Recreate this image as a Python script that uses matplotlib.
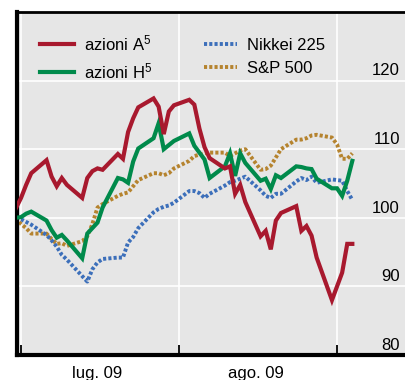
import matplotlib
matplotlib.use("Agg")
import matplotlib.pyplot as plt
import matplotlib.dates as mdates
import matplotlib.transforms as mtransforms
import pandas as pd

plt.rcParams['font.family'] = ['Liberation Sans', 'DejaVu Sans']
plt.rcParams['mathtext.fontset'] = 'custom'
plt.rcParams['mathtext.rm'] = 'Liberation Sans'
plt.rcParams['mathtext.it'] = 'Liberation Sans'

dates = pd.bdate_range("2009-06-30", "2009-09-04")

azioni_a = [101.4,
            102.9, 104.8, 106.5, 108.4, 106.0, 104.6, 105.8, 104.8, 102.9, 105.8, 106.8, 107.2,
            107.0, 109.3, 108.6, 112.5, 114.5, 116.1, 117.4, 116.2, 112.2, 115.5, 116.4,
            117.2, 116.5, 113.0, 110.3, 108.7, 107.2, 107.5, 103.5, 104.8, 102.3, 97.3, 98.1,
            95.4, 99.6, 100.7, 101.7, 98.1, 98.8, 97.4, 94.2, 88.0,
            90.0, 92.0, 96.2, 96.2]
azioni_h = [100.0,
            100.1, 100.6, 100.9, 99.6, 98.2, 97.1, 97.5, 96.7, 94.1, 97.7, 98.5, 99.3,
            101.5, 105.8, 105.6, 105.1, 108.2, 110.1, 111.6, 113.8, 110.0, 110.6, 111.2,
            112.3, 110.5, 109.5, 108.5, 105.8, 107.5, 109.4, 106.1, 109.4, 108.0, 105.4, 105.7,
            104.2, 106.2, 105.8, 107.5, 107.4, 107.2, 107.1, 105.7, 104.3,
            104.3, 103.2, 105.4, 108.3]
nikkei = [100.0,
          99.8, 99.4, 99.0, 97.5, 96.7, 95.8, 94.6, 93.9, 91.5, 90.7, 92.5, 93.5,
          94.0, 94.2, 94.2, 96.4, 97.2, 98.5, 100.8, 101.3, 101.6, 101.8, 102.2,
          103.9, 103.9, 103.6, 102.9, 103.5, 104.7, 105.2, 105.4, 105.7, 106.0, 104.0, 103.2,
          102.9, 103.5, 103.5, 105.3, 105.8, 105.5, 106.0, 105.1, 105.6,
          105.5, 105.4, 103.9, 102.6]
sp500 = [100.0,
         99.1, 98.5, 97.7, 97.7, 96.9, 96.2, 96.3, 95.9, 96.6, 97.3, 99.1, 101.5,
         102.0, 103.2, 103.5, 103.7, 104.6, 105.5, 106.5, 106.5, 106.2, 106.5, 107.2,
         108.3, 109.0, 109.2, 109.4, 109.5, 109.5, 109.0, 109.4, 109.8, 110.0, 107.0, 107.1,
         107.6, 108.8, 110.0, 111.4, 111.4, 111.6, 112.0, 112.1, 111.7,
         110.7, 108.6, 108.6, 109.4]

labels = ["azioni A$^5$", "azioni H$^5$", "Nikkei 225", "S&P 500"]
colors = ["#A8192E", "#008A4B", "#3C6FBA", "#B5832E"]
y_ticks = [80, 90, 100, 110, 120]
month_labels = ["lug. 09", "ago. 09"]

fig = plt.figure(figsize=(4.05, 3.8), dpi=100)
ax = fig.add_axes([17/405, 25/380, 388/405, 343/380])
ax.set_facecolor("#E6E6E6")

ax.set_xlim(pd.Timestamp("2009-06-30 05:00"), pd.Timestamp("2009-09-14 08:00"))
ax.set_ylim(80, 130)

for y in y_ticks[1:]:
    ax.axhline(y, color="white", lw=1.2, zorder=1)
for d in ["2009-07-01", "2009-08-01", "2009-09-01"]:
    ax.axvline(pd.Timestamp(d), color="white", lw=1.2, zorder=1)

dot = (0, (0.8, 0.55))
l_sp, = ax.plot(dates, sp500, color=colors[3], lw=2.8, ls=dot, label=labels[3], zorder=2)
l_nk, = ax.plot(dates, nikkei, color=colors[2], lw=2.8, ls=dot, label=labels[2], zorder=2)
l_h, = ax.plot(dates, azioni_h, color=colors[1], lw=3, label=labels[1], zorder=3, solid_joinstyle='miter')
l_a, = ax.plot(dates, azioni_a, color=colors[0], lw=3, label=labels[0], zorder=4, solid_joinstyle='miter')

ax.spines["right"].set_visible(False)
ax.spines["left"].set_linewidth(3)
ax.spines["bottom"].set_linewidth(3)
ax.spines["top"].set_linewidth(2)
for s in ["left", "bottom", "top"]:
    ax.spines[s].set_color("black")

ax.xaxis.set_major_locator(mdates.MonthLocator())
ax.xaxis.set_major_formatter(plt.NullFormatter())
ax.tick_params(axis="x", which="major", direction="in", length=7, width=1.3, color="black")
ax.set_xticks([pd.Timestamp("2009-07-16"), pd.Timestamp("2009-08-16")], minor=True)
ax.set_xticklabels(month_labels, minor=True)
ax.tick_params(axis="x", which="minor", length=0, pad=8, labelsize=12)
ax.set_yticks([])

trans = mtransforms.blended_transform_factory(ax.transAxes, ax.transData)
for y in y_ticks:
    ax.text(0.987, y + 0.75, str(y), transform=trans, ha="right", va="baseline",
            fontsize=12, color="black")

ax.legend([l_a, l_h, l_nk, l_sp], [labels[0], labels[1], labels[2], labels[3]],
          ncol=2, loc="upper left", bbox_to_anchor=(0.043, 0.958),
          frameon=False, fontsize=12, handlelength=2.0, handletextpad=0.6,
          columnspacing=3.1, labelspacing=0.5, borderaxespad=0)

fig.savefig("out.png", dpi=100)
